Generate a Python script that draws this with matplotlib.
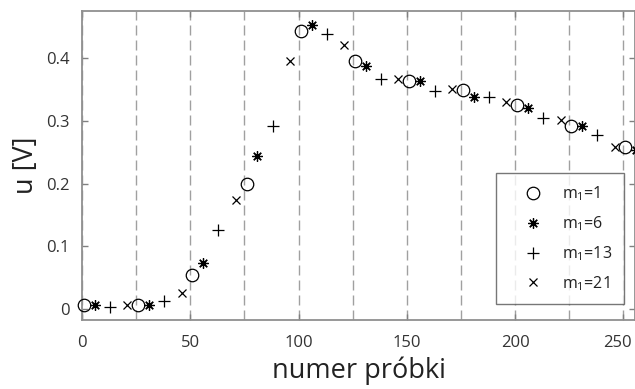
import matplotlib
matplotlib.use("Agg")
import matplotlib.pyplot as plt
from matplotlib.transforms import ScaledTranslation
import numpy as np

plt.rcParams["font.family"] = ["Open Sans", "DejaVu Sans"]

# numery próbek i odczytane napięcia dla kolejnych m1
x_m1 = [1, 26, 51, 76, 101, 126, 151, 176, 201, 226, 251]
y_m1 = [0.007, 0.007, 0.055, 0.200, 0.443, 0.396, 0.363, 0.349, 0.325, 0.291, 0.258]
x_m6 = [6, 31, 56, 81, 106, 131, 156, 181, 206, 231, 256]
y_m6 = [0.006, 0.007, 0.074, 0.244, 0.453, 0.387, 0.363, 0.338, 0.320, 0.291, 0.253]
x_m13 = [13, 38, 63, 88, 113, 138, 163, 188, 213, 238]
y_m13 = [0.003, 0.012, 0.126, 0.291, 0.439, 0.367, 0.348, 0.338, 0.305, 0.277]
x_m21 = [21, 46, 71, 96, 121, 146, 171, 196, 221, 246]
y_m21 = [0.007, 0.026, 0.174, 0.395, 0.420, 0.367, 0.350, 0.330, 0.301, 0.258]

grid_x = np.arange(0, 251, 25)
xticks = [0, 50, 100, 150, 200, 250]
yticks = [0, 0.1, 0.2, 0.3, 0.4]

fig = plt.figure(figsize=(6.35, 3.89), dpi=100)
ax = fig.add_axes([82 / 635, 69 / 389, 553 / 635, 309 / 389])

for gx in grid_x:
    ax.axvline(gx, color="#a0a0a0", lw=1.0, ls=(0, (7.2, 3.6)), zorder=1)

series = [
    (x_m1, y_m1, "o", 9, "$\\mathregular{m_1}$=1"),
    (x_m6, y_m6, (8, 2, 0), 7.5, "$\\mathregular{m_1}$=6"),
    (x_m13, y_m13, "+", 9, "$\\mathregular{m_1}$=13"),
    (x_m21, y_m21, "x", 5.5, "$\\mathregular{m_1}$=21"),
]
for xs, ys, mk, ms, lab in series:
    ax.plot(xs, ys, ls="none", marker=mk, ms=ms, mfc="none",
            mec="black", mew=0.9, label=lab, zorder=3, clip_on=False)

ax.set_xlim(0, 255.4)
ax.set_ylim(-0.0175, 0.4749)
ax.set_xticks(xticks)
ax.set_yticks(yticks)
ax.set_yticklabels(["0", "0.1", "0.2", "0.3", "0.4"])
ax.tick_params(direction="in", length=4, width=1, color="#808080",
               labelsize=12, labelcolor="#333333", top=True, right=True)
ax.tick_params(axis="x", pad=11)
ax.tick_params(axis="y", pad=9)
for sp in ax.spines.values():
    sp.set_color("#909090")
    sp.set_linewidth(1.3)

# "250" leży przy samej krawędzi – lekko w lewo, żeby się zmieścił
last = ax.get_xticklabels()[-1]
last.set_transform(last.get_transform()
                   + ScaledTranslation(-6 / 100, 0, fig.dpi_scale_trans))

ax.set_xlabel("numer próbki", fontsize=19.5, color="#222222", labelpad=4)
ax.set_ylabel("u [V]", fontsize=19.5, color="#222222", labelpad=4)

leg = ax.legend(loc="lower right", bbox_to_anchor=(0.980, 0.052),
                fontsize=11.5, frameon=True, fancybox=False,
                handlelength=3.2, handletextpad=0.25, borderpad=0.7,
                labelspacing=0.7, borderaxespad=0)
leg.get_frame().set_edgecolor("#555555")
leg.get_frame().set_linewidth(1.0)
for t in leg.get_texts():
    t.set_color("#222222")

fig.savefig("out.png", dpi=100)
